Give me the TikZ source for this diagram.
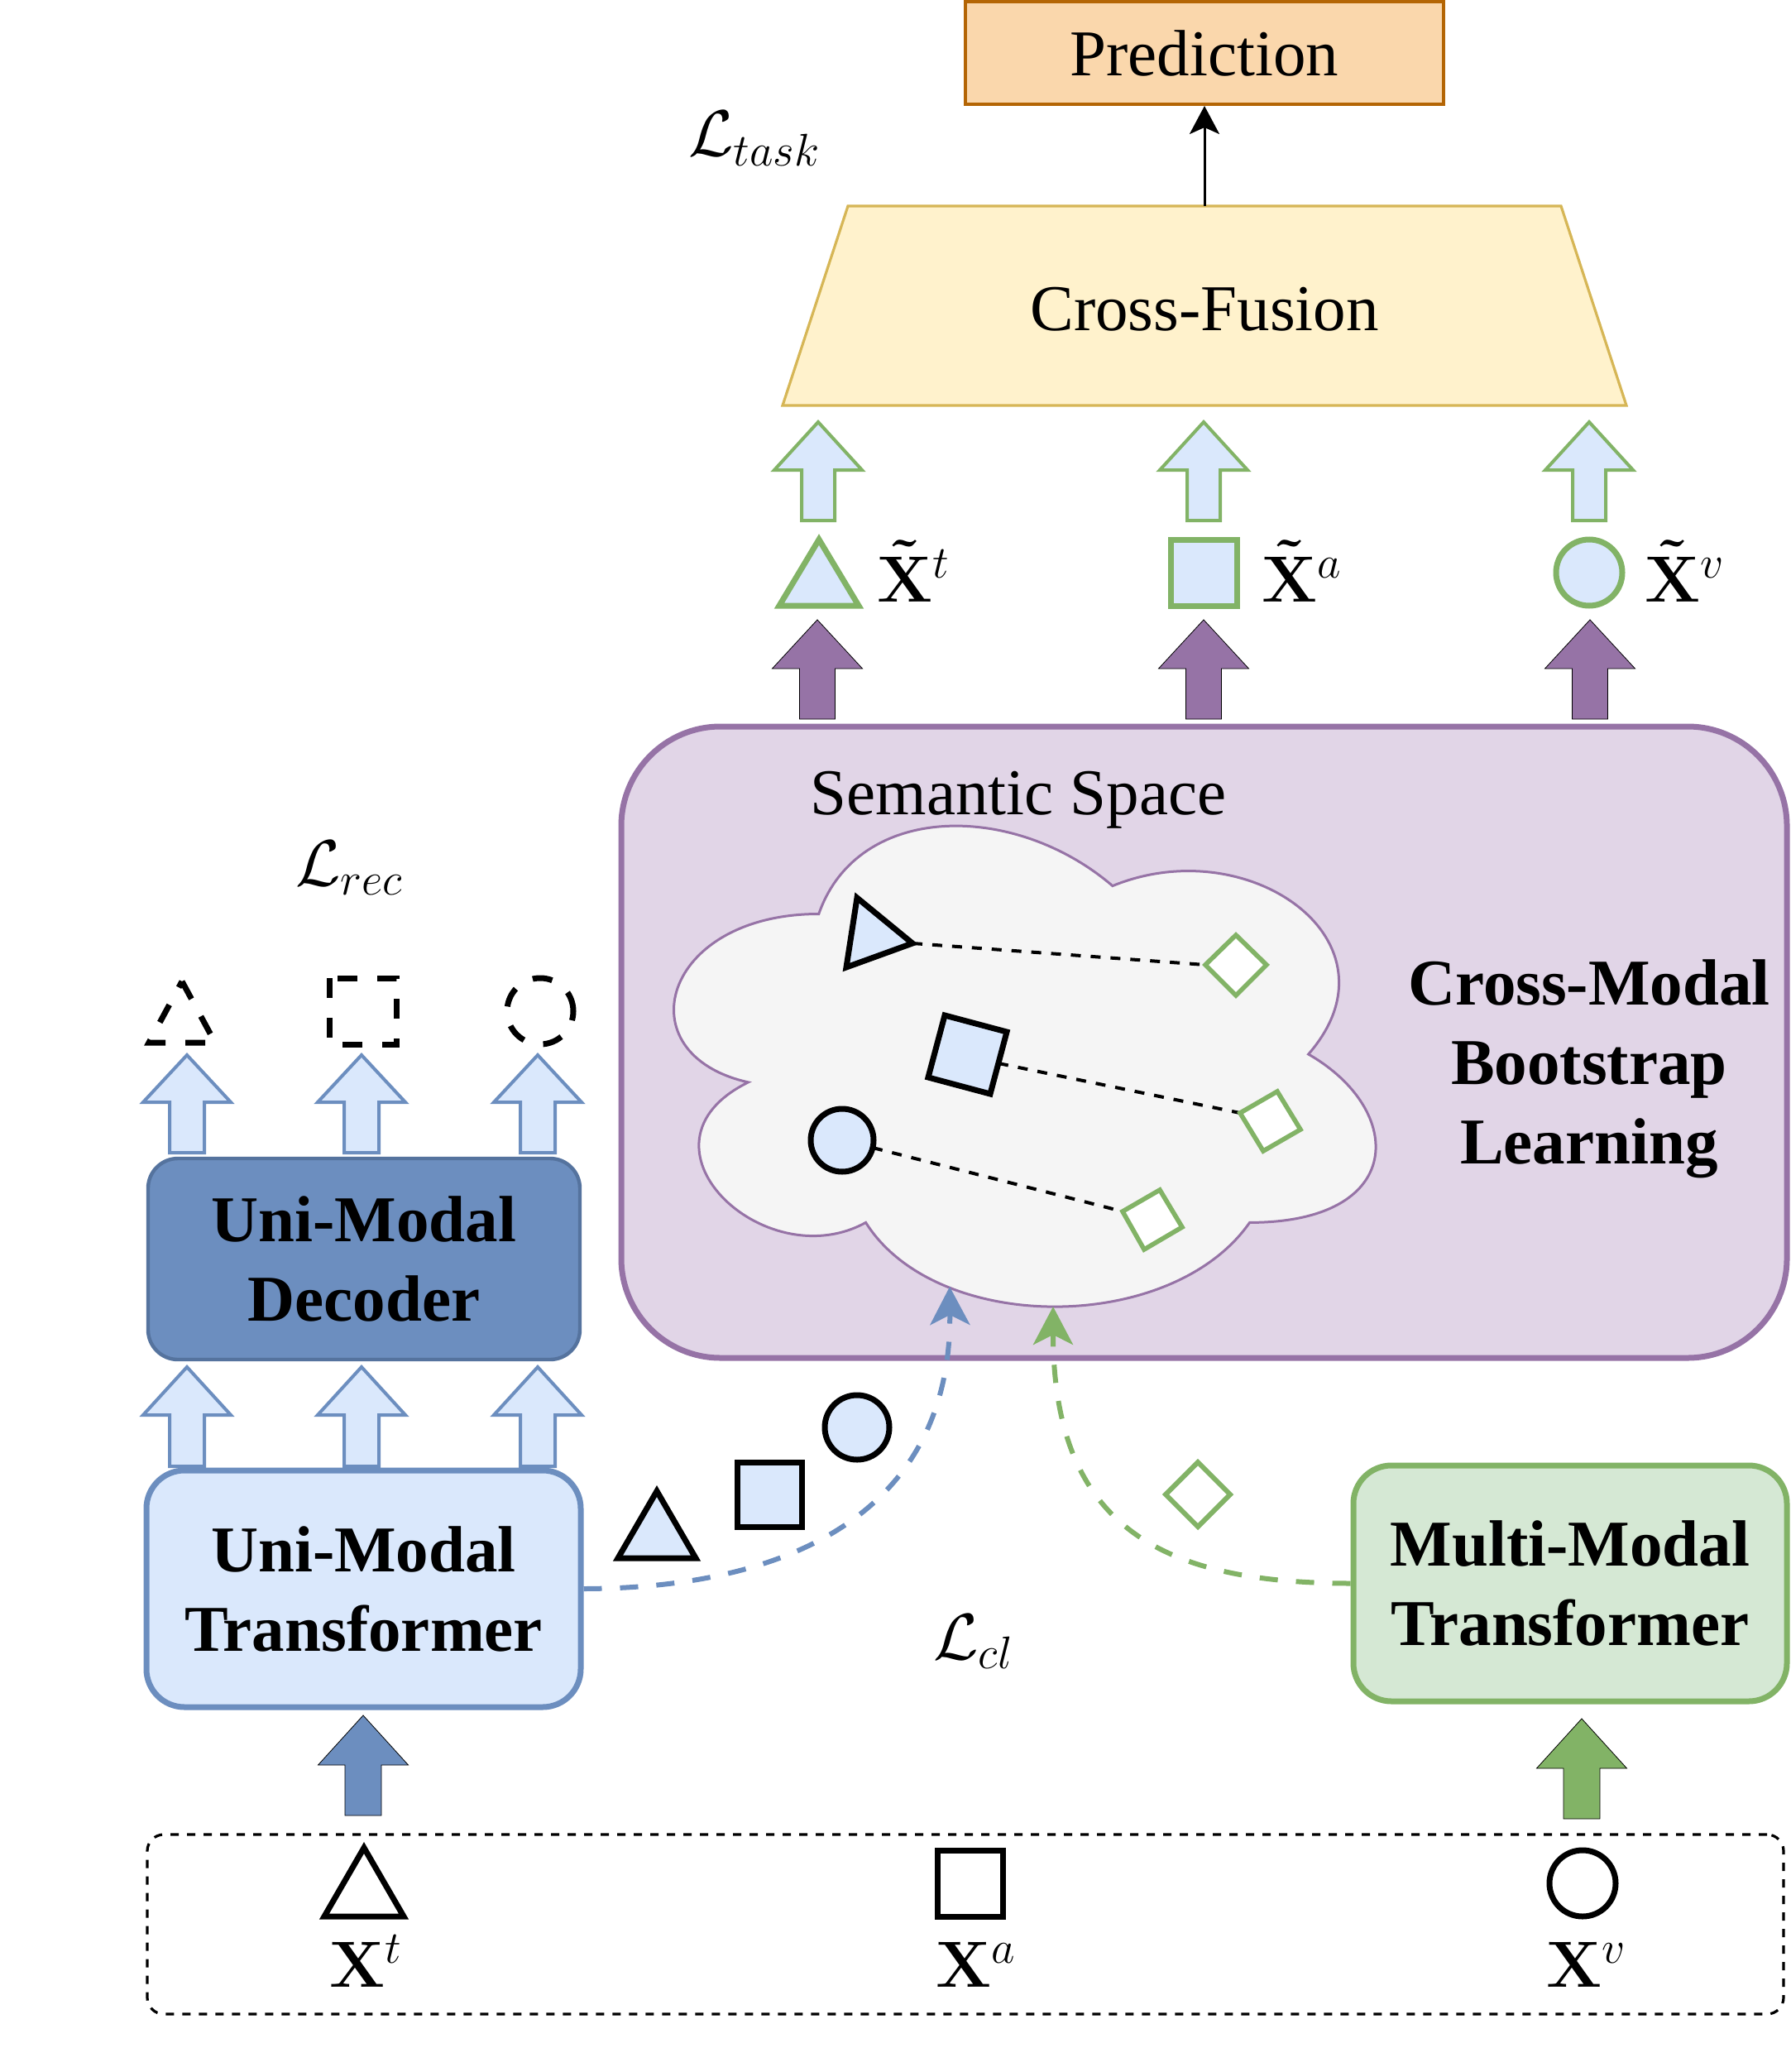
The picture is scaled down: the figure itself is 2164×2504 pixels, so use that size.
\documentclass[tikz,border=0pt]{standalone}
\usepackage{fix-cm}
\usepackage[no-math]{fontspec}
\setmainfont{Liberation Serif}
\usetikzlibrary{arrows.meta}
\definecolor{predfill}{HTML}{FAD7AC}
\definecolor{predline}{HTML}{B46504}
\definecolor{cffill}{HTML}{FFF2CC}
\definecolor{cfline}{HTML}{D6B656}
\definecolor{lblue}{HTML}{DAE8FC}
\definecolor{mblue}{HTML}{6C8EBF}
\definecolor{dblue}{HTML}{55739E}
\definecolor{gline}{HTML}{82B366}
\definecolor{gfill}{HTML}{D5E8D4}
\definecolor{pline}{HTML}{9673A6}
\definecolor{pfill}{HTML}{E1D5E7}
\definecolor{cloudfill}{HTML}{F5F5F5}
\newcommand\bigsize{\fontsize{39.5}{48}\selectfont}
% style, x, tip y, head-base y, bottom y, head half width, shaft half width
\newcommand\blockup[7]{%
  \draw[#1] (#2,#3) -- ({#2+#6},#4) -- ({#2+#7},#4) -- ({#2+#7},#5) -- ({#2-#7},#5) -- ({#2-#7},#4) -- ({#2-#6},#4) -- cycle;}
\tikzset{
  txt/.style={font=\bigsize, inner sep=0pt},
  btxt/.style={font=\bigsize\bfseries, inner sep=0pt, align=center},
  hollowG/.style={draw=gline, fill=lblue, line width=2pt},
  hollowB/.style={draw=mblue, fill=lblue, line width=2pt},
  solidP/.style={fill=pline},
  solidB/.style={fill=mblue},
  solidG/.style={fill=gline},
  gshape/.style={draw=gline, fill=lblue, line width=3.5pt},
  kshape/.style={draw=black, fill=lblue, line width=3.5pt},
  kwhite/.style={draw=black, fill=white, line width=3.5pt},
  gdiam/.style={draw=gline, fill=white, line width=2.8pt},
  recshape/.style={draw=black, line width=3.5pt, dash pattern=on 12pt off 12pt},
  pairline/.style={draw=black, line width=2pt, dash pattern=on 6pt off 6pt},
  flow/.style={line width=3pt, dash pattern=on 11pt off 11pt, -{Stealth[length=23pt,width=24pt,inset=6pt]}},
}
\begin{document}
\begin{tikzpicture}[x=0.5pt,y=-0.5pt]
\useasboundingbox (0,0) rectangle (2164,2504);

% ---------- Prediction / Cross-Fusion ----------
\node[draw=predline, fill=predfill, line width=2pt, minimum width=289pt, minimum height=62pt, txt] (pred) at (1456,64) {Prediction};
\draw[draw=cfline, fill=cffill, line width=1.6pt] (946,490) -- (1025,249) -- (1887,249) -- (1966,490) -- cycle;
\coordinate (cftop) at (1456,249);
\node[txt, anchor=base] (cf) at (1456,400) {Cross-Fusion};
\draw[line width=1.5pt, -{Stealth[length=17pt,width=18pt,inset=4pt]}] (cftop) -- (pred.south);
\node[txt, anchor=base west] (ltask) at (832,189) {$\mathcal{L}_{task}$};

% ---------- fused outputs ----------
\blockup{hollowG}{989}{510}{568}{629}{53}{20}
\blockup{hollowG}{1455}{510}{568}{629}{53}{20}
\blockup{hollowG}{1921}{510}{568}{629}{53}{20}
\draw[gshape] (990,652) -- (1038,732) -- (942,732) -- cycle;
\draw[gshape] (1415,652) rectangle (1495,732);
\draw[gshape] (1921,692) circle[radius=20pt];
\node[txt, anchor=base west] (xtt) at (1060,727) {$\mathbf{\tilde{X}}^t$};
\node[txt, anchor=base west] (xta) at (1525,727) {$\mathbf{\tilde{X}}^a$};
\node[txt, anchor=base west] (xtv) at (1988,727) {$\mathbf{\tilde{X}}^v$};
\blockup{solidP}{988}{749}{808}{869}{54.5}{21.5}
\blockup{solidP}{1455}{749}{808}{869}{54.5}{21.5}
\blockup{solidP}{1922}{749}{808}{869}{54.5}{21.5}

% ---------- Cross-modal bootstrap block ----------
\node[draw=pline, fill=pfill, line width=3.5pt, rounded corners=60pt, minimum width=704.5pt, minimum height=381.5pt] (cmb) at (1455.5,1259.5) {};
\node[txt, anchor=base] (sem) at (1231,984) {Semantic Space};
\begin{scope}[shift={(753,935)}, x=473.5pt, y=-339pt]
\draw[draw=pline, fill=cloudfill, line width=1.5pt] (0.25,0.25) .. controls (0.05,0.25) and (0,0.5) .. (0.16,0.55) .. controls (0,0.66) and (0.18,0.9) .. (0.31,0.8) .. controls (0.4,1) and (0.7,1) .. (0.8,0.8) .. controls (1,0.8) and (1,0.6) .. (0.875,0.5) .. controls (1,0.3) and (0.8,0.1) .. (0.625,0.2) .. controls (0.5,0.05) and (0.3,0.05) .. (0.25,0.25) -- cycle;
\end{scope}
\coordinate (ctri) at (1103,1140);
\coordinate (csq) at (1207,1285);
\coordinate (ccir) at (1055,1387);
\coordinate (d1) at (1457,1166);
\coordinate (d2) at (1499,1345);
\coordinate (d3) at (1357,1464);
\draw[pairline] (ctri) -- (d1);
\draw[pairline] (csq) -- (d2);
\draw[pairline] (ccir) -- (d3);
\draw[kshape] (1036,1085) -- (1103,1140) -- (1023,1169) -- cycle;
\draw[kshape] (1142,1227) -- (1217,1247) -- (1197,1322) -- (1122,1302) -- cycle;
\draw[kshape] (1018,1378) circle[radius=19pt];
\draw[gdiam] (1494,1130) -- (1531,1166) -- (1494,1203) -- (1457,1166) -- cycle;
\draw[gdiam] (1544,1319) -- (1572,1365) -- (1527,1391) -- (1499,1345) -- cycle;
\draw[gdiam] (1402,1438) -- (1429,1483) -- (1383,1510) -- (1357,1464) -- cycle;
\node[btxt] (cmbl) at (1921,1292) {Cross-Modal\\Bootstrap\\Learning};

% ---------- reconstruction branch ----------
\node[txt, anchor=base west] (lrec) at (357,1070) {$\mathcal{L}_{rec}$};
\draw[recshape] (220,1186) -- (260,1260) -- (180,1260) -- cycle;
\draw[recshape] (398,1182) rectangle (479,1262);
\draw[recshape] (653,1222) circle[radius=20pt];
\blockup{hollowB}{226}{1275}{1332}{1393}{53}{21}
\blockup{hollowB}{437}{1275}{1332}{1393}{53}{21}
\blockup{hollowB}{650}{1275}{1332}{1393}{53}{21}
\node[draw=dblue, fill=mblue, line width=2.2pt, rounded corners=18pt, minimum width=261pt, minimum height=121.5pt, btxt] (umd) at (440,1521.5) {Uni-Modal\\Decoder};
\blockup{hollowB}{226}{1652}{1710}{1772}{53}{21}
\blockup{hollowB}{437}{1652}{1710}{1772}{53}{21}
\blockup{hollowB}{650}{1652}{1710}{1772}{53}{21}
\node[draw=mblue, fill=lblue, line width=3.5pt, rounded corners=23pt, minimum width=262.5pt, minimum height=143pt, btxt] (umt) at (439.5,1920) {Uni-Modal\\Transformer};
\node[draw=gline, fill=gfill, line width=3.5pt, rounded corners=23pt, minimum width=262pt, minimum height=142.5pt, btxt] (mmt) at (1898,1913.5) {Multi-Modal\\Transformer};

% ---------- contrastive flow ----------
\draw[kshape] (794,1802) -- (841,1883) -- (747,1883) -- cycle;
\draw[kshape] (891,1767) rectangle (969,1845);
\draw[kshape] (1036,1725) circle[radius=19.5pt];
\draw[gdiam, line width=3pt] (1448,1767) -- (1487,1806) -- (1448,1845) -- (1409,1806) -- cycle;
\coordinate (cloudA) at (1148,1555);
\coordinate (cloudB) at (1273,1579);
\draw[flow, draw=mblue] (umt.east) .. controls (980,1919) and (1150,1810) .. (cloudA);
\draw[flow, draw=gline] (mmt.west) .. controls (1410,1913) and (1273,1850) .. (cloudB);
\node[txt, anchor=base west] (lcl) at (1128,2005) {$\mathcal{L}_{cl}$};

% ---------- inputs ----------
\blockup{solidB}{439}{2073}{2133}{2194}{54.5}{22}
\blockup{solidG}{1912}{2077}{2137}{2198}{54.5}{22}
\node[draw=black, line width=1.6pt, dash pattern=on 5pt off 5pt, rounded corners=10pt, minimum width=989pt, minimum height=108.5pt] (inp) at (1167,2325.5) {};
\draw[kwhite] (440,2233) -- (488,2316) -- (392,2316) -- cycle;
\draw[kwhite] (1133,2236) rectangle (1212,2316);
\draw[kwhite] (1913,2276) circle[radius=20pt];
\node[txt, anchor=base west] (xt) at (398,2401) {$\mathbf{X}^t$};
\node[txt, anchor=base west] (xa) at (1131,2401) {$\mathbf{X}^a$};
\node[txt, anchor=base west] (xv) at (1869,2401) {$\mathbf{X}^v$};
\end{tikzpicture}
\end{document}
